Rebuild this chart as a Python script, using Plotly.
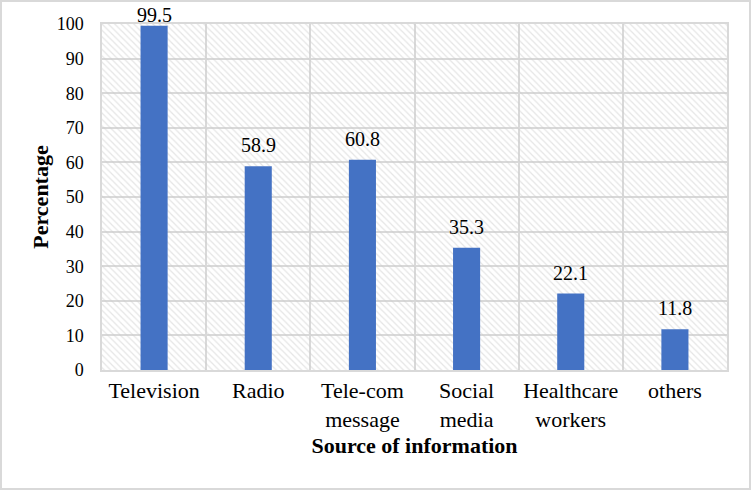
import plotly.graph_objects as go

categories = ["Television", "Radio", "Tele-com<br>message", "Social<br>media", "Healthcare<br>workers", "others"]
values = [99.5, 58.9, 60.8, 35.3, 22.1, 11.8]
y_ticks = [0, 10, 20, 30, 40, 50, 60, 70, 80, 90, 100]

FONT = "Liberation Serif"
GRID = "#d9d9d9"

fig = go.Figure()
# hatched plot-area background
fig.add_trace(go.Bar(
    x=categories, y=[100] * len(categories), width=1,
    marker=dict(color="rgba(0,0,0,0)", line=dict(width=0),
                pattern=dict(shape="\\", fgcolor="#cccccc", bgcolor="rgba(0,0,0,0)",
                             size=4.5, solidity=0.28)),
    hoverinfo="skip", showlegend=False,
))
fig.add_trace(go.Bar(
    x=categories, y=values, width=0.26,
    marker=dict(color="#4472c4", line=dict(width=0)),
    hoverinfo="x+y", showlegend=False,
))

# data labels above bars (Excel keeps the top label inside the chart)
for c, v in zip(categories, values):
    fig.add_annotation(x=c, y=v, text=f"{v:.1f}", showarrow=False, yanchor="bottom",
                       yshift=8 if v < 90 else -2,
                       font=dict(family=FONT, size=20, color="black"))

L, R, T, B = 102, 25, 24, 121
W, H = 752, 491
pw, ph = W - L - R, H - T - B

fig.update_layout(
    width=W, height=H, barmode="overlay",
    margin=dict(l=L, r=R, t=T, b=B, autoexpand=False),
    paper_bgcolor="white", plot_bgcolor="white",
    font=dict(family=FONT, size=18, color="black"),
    xaxis=dict(type="category", tickson="boundaries", showgrid=True, gridcolor=GRID, gridwidth=1.5,
               showline=True, linecolor=GRID, linewidth=1.5, mirror=True, automargin=False,
               tickangle=0,
               ticks="outside", ticklen=27, tickcolor="rgba(0,0,0,0)",
               tickfont=dict(family=FONT, size=22, color="black"),
               title=dict(text="<b>Source of information</b>", font=dict(family=FONT, size=22, color="black"), standoff=7)),
    yaxis=dict(range=[0, 100], tickvals=y_ticks, showgrid=True, gridcolor=GRID, gridwidth=1.5,
               showline=True, linecolor=GRID, linewidth=1.5, mirror=True, zeroline=False, automargin=False,
               ticks="outside", ticklen=13, tickcolor="rgba(0,0,0,0)",
               tickfont=dict(family=FONT, size=18, color="black"),
               title=dict(text="<b>Percentage</b>", font=dict(family=FONT, size=22, color="black"), standoff=2)),
)

# outer figure border
fig.add_shape(type="rect", xref="paper", yref="paper",
              x0=(1 - L) / pw, x1=(W - 2 - L) / pw,
              y0=-(B - 2) / ph, y1=(ph + T - 1) / ph,
              line=dict(color=GRID, width=2), layer="below")

fig.write_html("out.html", config={"displayModeBar": False},
               post_script="document.body.style.margin='0';document.body.style.overflow='hidden';")
